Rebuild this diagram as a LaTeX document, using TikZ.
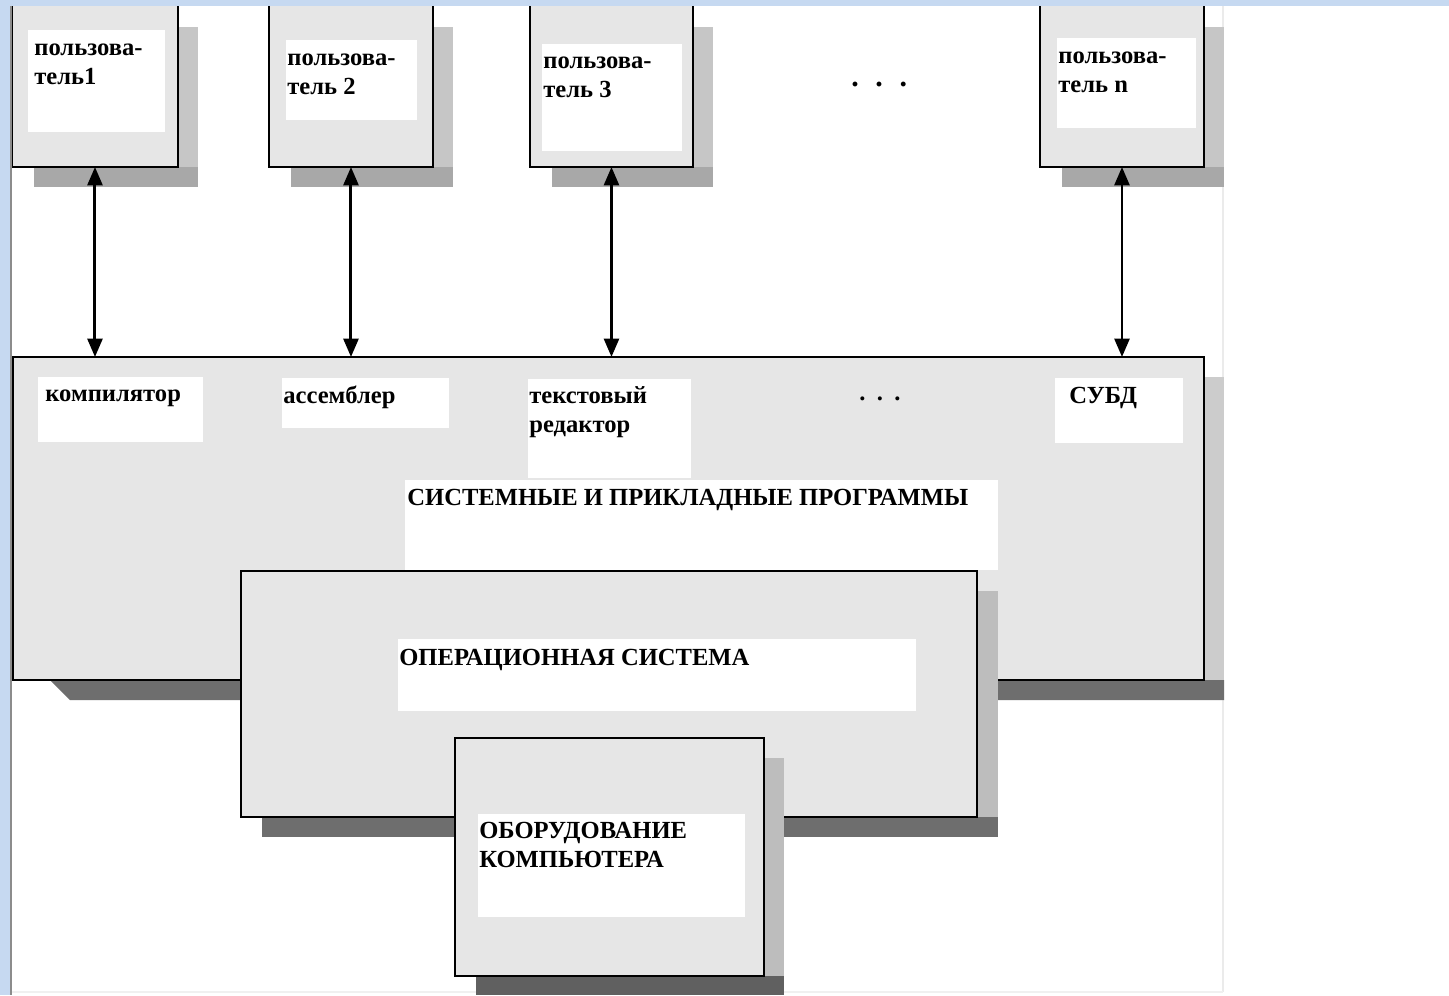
\documentclass[tikz,border=0pt]{standalone}
\usepackage{fontspec}
\setmainfont{Liberation Serif}
\usetikzlibrary{arrows.meta}
\definecolor{boxgray}{HTML}{E6E6E6}
\definecolor{shright}{HTML}{C6C6C6}
\definecolor{shbottom}{HTML}{A8A8A8}
\definecolor{shbig}{HTML}{CCCCCC}
\definecolor{shdark}{HTML}{6E6E6E}
\definecolor{shos}{HTML}{BDBDBD}
\definecolor{bandblue}{HTML}{C6D9F1}
\begin{document}
\begin{tikzpicture}[x=0.02cm,y=-0.02cm,
  box/.style={draw=black, fill=boxgray, line width=1.1pt, inner sep=0pt, outer sep=0pt, anchor=north west},
  txt/.style={font=\fontsize{14pt}{16.8pt}\selectfont\bfseries, inner sep=0pt, anchor=base west},
  dotstxt/.style={font=\fontsize{17pt}{17pt}\selectfont\bfseries, inner sep=0pt, anchor=base west},
  link/.style={line width=1.7pt, {Triangle[width=8.5pt,length=10.5pt]}-{Triangle[width=8.5pt,length=10.5pt]}}]
\useasboundingbox (0,0) rectangle (1449,995);
\fill[white] (0,0) rectangle (1449,995);
% ---- frame lines (behind everything)
\draw[black!8, line width=0.8pt] (1223,6) -- (1223,992);
\draw[black!6, line width=0.8pt] (11,992) -- (1223,992);

% ---- user boxes: shadows
\foreach \xa/\xb in {12/178, 269/433, 530/693, 1040/1204}{
  \fill[shright] (\xb,27) rectangle (\xb+20,187);
  \fill[shbottom] (\xa+22,167) rectangle (\xb+20,187);
}
\node[box, minimum width=3.32cm, minimum height=3.54cm] (u1) at (12,-10) {};
\node[box, minimum width=3.28cm, minimum height=3.54cm] (u2) at (269,-10) {};
\node[box, minimum width=3.26cm, minimum height=3.54cm] (u3) at (530,-10) {};
\node[box, minimum width=3.28cm, minimum height=3.54cm] (un) at (1040,-10) {};
\fill[white] (28,30) rectangle (165,132);
\fill[white] (286,40) rectangle (417,120);
\fill[white] (542,44) rectangle (682,151);
\fill[white] (1057,38) rectangle (1196,128);
\node[txt] (t1) at (34,55) {\begin{tabular}[t]{@{}l@{}}пользова-\\тель1\end{tabular}};
\node[txt] (t2) at (287,65) {\begin{tabular}[t]{@{}l@{}}пользова-\\тель 2\end{tabular}};
\node[txt] (t3) at (543,68) {\begin{tabular}[t]{@{}l@{}}пользова-\\тель 3\end{tabular}};
\node[txt] (tn) at (1058,63) {\begin{tabular}[t]{@{}l@{}}пользова-\\тель n\end{tabular}};
\node[dotstxt] (dots1) at (851,86) {.\hspace{9.5pt}.\hspace{9.5pt}.};

% ---- programs box
\fill[shbig] (1204,377) rectangle (1224,700);
\fill[shdark] (50,680) -- (1224,680) -- (1224,700) -- (70,700) -- cycle;
\node[box, minimum width=23.82cm, minimum height=6.46cm] (prog) at (13,357) {};
\fill[white] (38,377) rectangle (203,442);
\fill[white] (282,378) rectangle (449,428);
\fill[white] (528,379) rectangle (691,478);
\fill[white] (1055,378) rectangle (1183,443);
\fill[white] (405,480) rectangle (998,570);
\node[txt] (comp) at (45,401) {компилятор};
\node[txt] (asm) at (283,403) {ассемблер};
\node[txt] (edit) at (529,403) {\begin{tabular}[t]{@{}l@{}}текстовый\\редактор\end{tabular}};
\node[txt] (dots2) at (859,400) {.\hspace{6.5pt}.\hspace{6.5pt}.};
\node[txt] (dbms) at (1069,403) {СУБД};
\node[txt] (progt) at (407,505) {СИСТЕМНЫЕ И ПРИКЛАДНЫЕ ПРОГРАММЫ};

% ---- OS box
\fill[shos] (977,591) rectangle (998,837);
\fill[shdark] (262,817) rectangle (998,837);
\node[box, minimum width=14.72cm, minimum height=4.92cm] (os) at (241,571) {};
\fill[white] (398,639) rectangle (916,711);
\node[txt] (ost) at (399,665) {ОПЕРАЦИОННАЯ СИСТЕМА};

% ---- hardware box
\fill[shos] (764,758) rectangle (784,995);
\fill[shdark!110] (476,976) rectangle (784,995);
\node[box, minimum width=6.18cm, minimum height=4.76cm] (hw) at (455,738) {};
\fill[white] (478,814) rectangle (745,917);
\node[txt] (hwt) at (479,838) {\begin{tabular}[t]{@{}l@{}}ОБОРУДОВАНИЕ\\КОМПЬЮТЕРА\end{tabular}};

% ---- connectors
\draw[link] (u1.south) -- (u1.south |- prog.north);
\draw[link] (u2.south) -- (u2.south |- prog.north);
\draw[link] (u3.south) -- (u3.south |- prog.north);
\draw[link] (un.south) -- (un.south |- prog.north);

% ---- blue bands
\fill[bandblue] (0,0) rectangle (1449,6);
\fill[bandblue] (0,0) rectangle (10,995);
\draw[black!45, line width=0.6pt] (11,6) -- (11,995);
\end{tikzpicture}
\end{document}
